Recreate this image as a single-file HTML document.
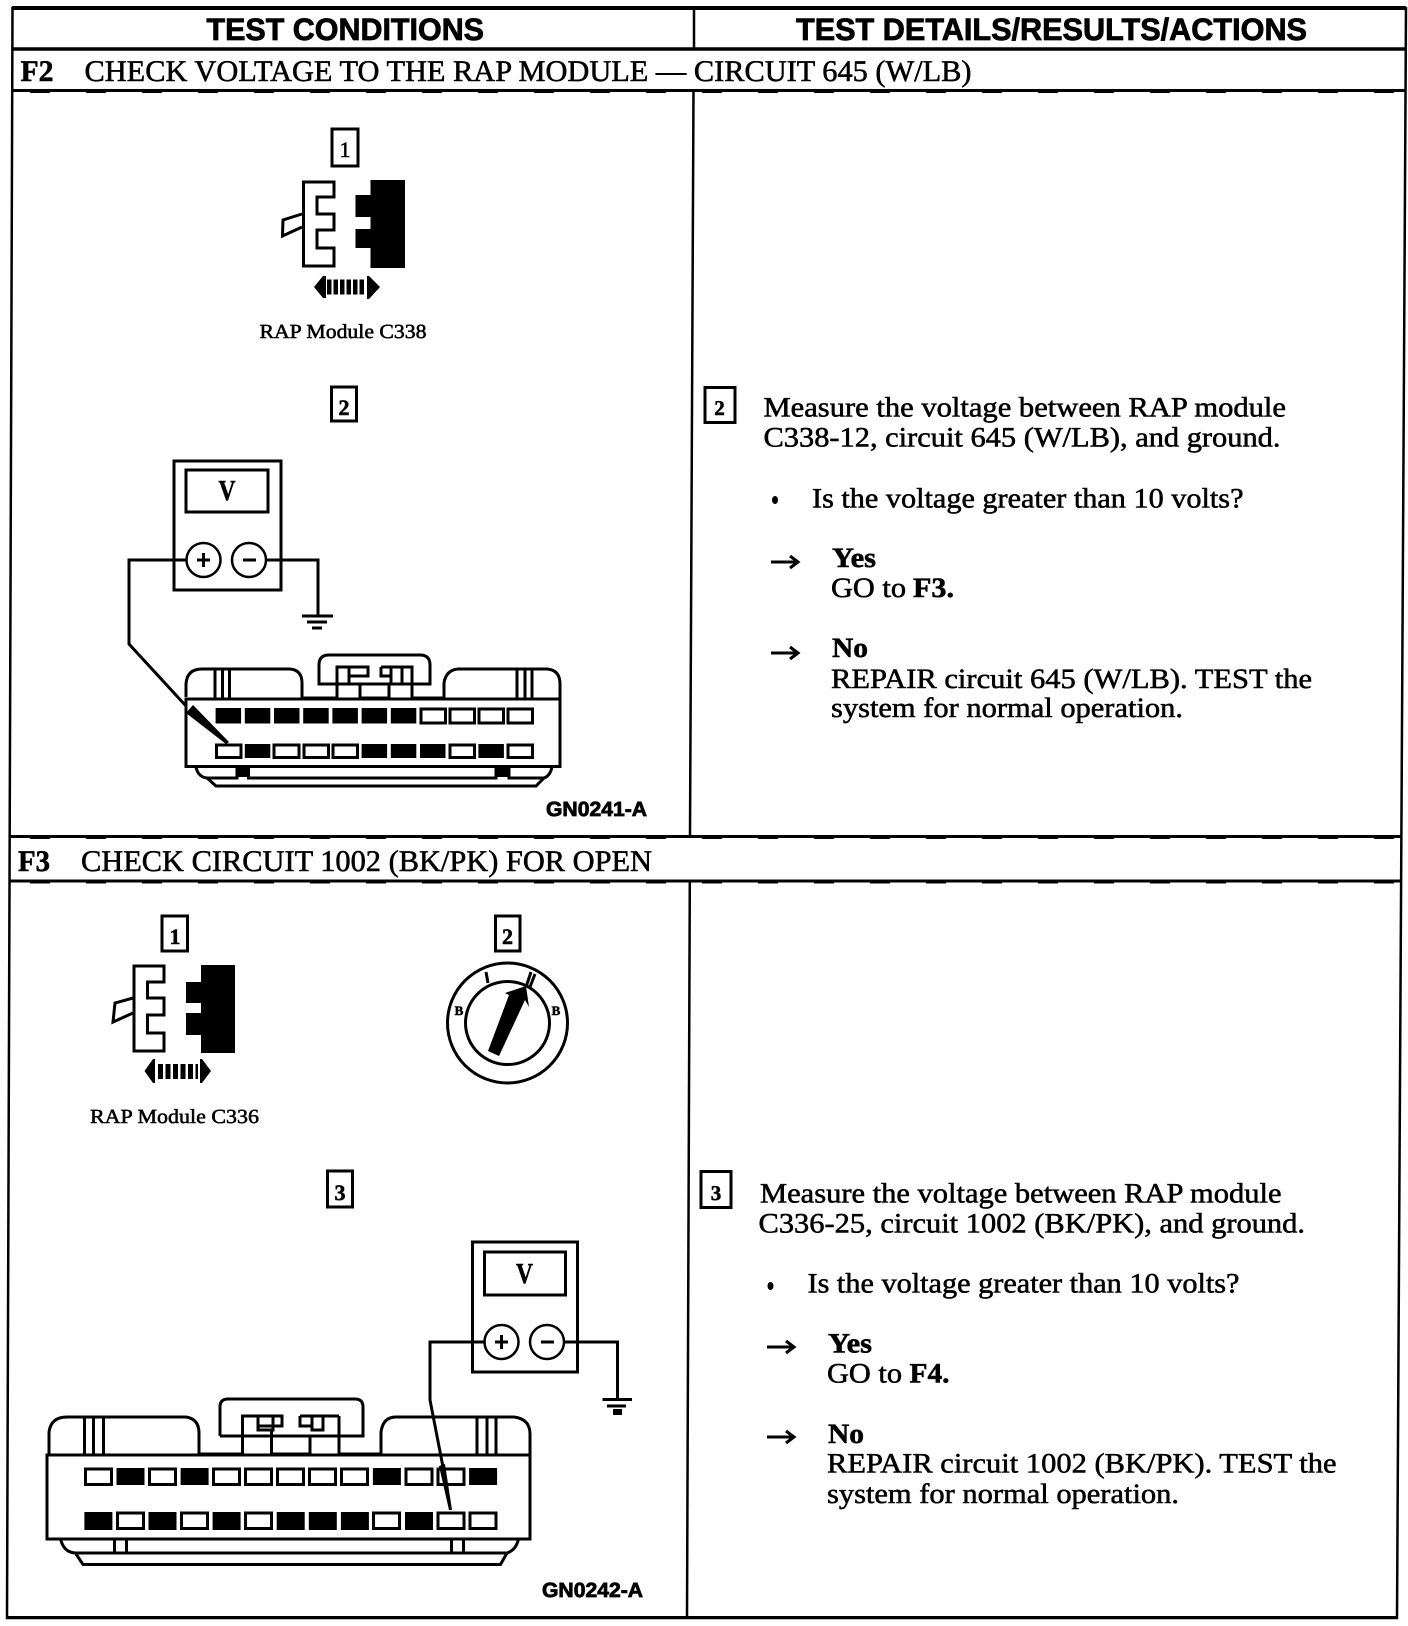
<!DOCTYPE html>
<html><head><meta charset="utf-8"><title>F2 F3 test</title>
<style>
html,body{margin:0;padding:0;background:#fff;width:1408px;height:1626px;overflow:hidden}
svg{display:block}
text{font-family:"Liberation Serif",serif;fill:#000;stroke:#000;stroke-width:.55;text-rendering:geometricPrecision}
.s{font-family:"Liberation Sans",sans-serif;font-weight:bold;stroke-width:.8}
.b{font-weight:bold}
.m{font-size:28px}
.l{fill:none;stroke:#000;stroke-width:3}
.k{fill:#000;stroke:none}
.w{fill:#fff;stroke:#000;stroke-width:2.5}
</style></head><body>
<svg xmlns="http://www.w3.org/2000/svg" width="1408" height="1626" viewBox="0 0 1408 1626">
<rect width="1408" height="1626" fill="#fff"/>
<!-- table -->
<g class="l">
<path d="M12.5 8H1406L1397 1618H7Z" stroke-width="2.5"/>
<path d="M12 8H1406" stroke-width="4"/>
<path d="M694 8V49M693.5 90L690 836M689.800 881L687 1618" stroke-width="2.5"/>
<path d="M12.5 49H1406" stroke-width="3.5"/>
<path d="M12 90.5H1405"/>
<path d="M9.5 836.5H1402"/>
<path d="M9 881H1401.5"/>
<path d="M7 1617.5H1397"/>
</g>
<g stroke="#000" stroke-width="1" stroke-dasharray="20 36" fill="none">
<path d="M30 92.500H1400"/><path d="M30 838.500H1400"/><path d="M30 883H1400"/>
</g>
<!-- header -->
<text class="s" x="206.5" y="40" font-size="31" textLength="277.5" lengthAdjust="spacingAndGlyphs">TEST CONDITIONS</text>
<text class="s" x="796" y="40" font-size="31" textLength="511" lengthAdjust="spacingAndGlyphs">TEST DETAILS/RESULTS/ACTIONS</text>
<text class="b" x="20.5" y="81" font-size="30" textLength="33" lengthAdjust="spacingAndGlyphs">F2</text>
<text x="84.5" y="81" font-size="30" textLength="887" lengthAdjust="spacingAndGlyphs">CHECK VOLTAGE TO THE RAP MODULE — CIRCUIT 645 (W/LB)</text>
<text class="b" x="18" y="871" font-size="30" textLength="32" lengthAdjust="spacingAndGlyphs">F3</text>
<text x="81" y="871" font-size="30" textLength="571" lengthAdjust="spacingAndGlyphs">CHECK CIRCUIT 1002 (BK/PK) FOR OPEN</text>

<!-- F2 step 1 -->
<rect x="332" y="129" width="26" height="37" class="l" stroke-width="2.5"/>
<text x="345" y="157" font-size="22" text-anchor="middle">1</text>
<path class="l" d="M303.5 182H334V197H317V214H334V230H317V248H334V266H303.5Z"/>
<path class="l" d="M302 214L283 220L282.5 236L302 227"/>
<path class="k" d="M370.5 180H405V268H370.5V248H355.5V229H370.5V217H355.5V195H370.5Z"/>
<path class="k" d="M314 287L323 276H326V298H323Z"/><path class="k" d="M367 276H369L380 287L369 299H367Z"/>
<path d="M327 287H366" stroke="#000" stroke-width="15" stroke-dasharray="4.500 2" fill="none"/>
<text x="259.5" y="338" font-size="20" textLength="167" lengthAdjust="spacingAndGlyphs">RAP Module C338</text>
<rect x="331.5" y="387" width="25" height="34" class="l" stroke-width="2.5"/>
<text x="344" y="415" font-size="22" text-anchor="middle" class="b">2</text>

<!-- F2 meter -->
<rect x="174" y="461" width="107" height="129" class="l" stroke-width="4"/>
<rect x="186" y="470" width="82" height="42" class="l" stroke-width="3"/>
<text class="b" x="218.500" y="500" font-size="29" textLength="17" lengthAdjust="spacingAndGlyphs">V</text>
<path class="l" stroke-width="3.5" d="M186 560H129V644L186 706"/>
<path class="l" stroke-width="3.5" d="M266 560H318V615"/>
<ellipse cx="203.5" cy="560" rx="17" ry="17" class="w"/><ellipse cx="249" cy="560" rx="17" ry="17" class="w"/>
<path class="l" d="M197 560H210M203.5 553V567M243 560H256"/>
<path class="l" d="M302 616H333" stroke-width="3.5"/><path class="l" d="M307 622H327"/><path class="l" d="M312 628H322"/>
<!-- F2 connector -->
<rect x="186" y="699" width="374" height="67.5" class="l"/>
<path class="l" d="M186 697V684Q187 669 202 669H290Q302 670 302 683V698"/>
<path class="l" stroke-width="2" d="M215 669V698M222.5 669V698M229.5 669V698M517 669V698M525 669V698M532 669V698"/>
<path class="l" d="M302 698H337V667H368V676H349M349 667V684M337 684H319V665Q319 655 329 655H420Q430 655 430 665V684H337M381 667H412V698H444M381 667V676H391M391 667V684M402 667V684M360 684V698H389V684"/>
<path class="l" d="M444 698V683Q446 670 458 669H547Q560 670 560 684V699"/>
<g class="k">
<rect x="215.6" y="708" width="25.5" height="15.5"/><rect x="244.8" y="708" width="25.5" height="15.5"/><rect x="274" y="708" width="25.5" height="15.5"/><rect x="303.2" y="708" width="25.5" height="15.5"/><rect x="332.4" y="708" width="25.5" height="15.5"/><rect x="361.6" y="708" width="25.5" height="15.5"/><rect x="390.8" y="708" width="25.5" height="15.5"/>
<rect x="244.8" y="744" width="25.5" height="14"/><rect x="361.6" y="744" width="25.5" height="14"/><rect x="390.8" y="744" width="25.5" height="14"/><rect x="420" y="744" width="25.5" height="14"/><rect x="478.4" y="744" width="25.5" height="14"/>
</g>
<g class="l" stroke-width="2">
<rect x="421" y="709" width="24.5" height="14"/><rect x="450" y="709" width="24.5" height="14"/><rect x="479" y="709" width="24.5" height="14"/><rect x="508" y="709" width="24.5" height="14"/>
<rect x="216.5" y="745" width="24.5" height="12.5"/><rect x="274" y="745" width="25" height="12.5"/><rect x="304" y="745" width="24.5" height="12.5"/><rect x="333" y="745" width="24.5" height="12.5"/><rect x="450" y="745" width="24.5" height="12.5"/><rect x="508" y="745" width="24.5" height="12.5"/>
</g>
<path class="l" d="M196 767Q198 777 207 778L216 786H536L544 778Q550 776 552 767"/>
<path class="l" d="M207 778H237V767H248.5V778H496V767H509V778H544" stroke-width="2.5"/>
<path class="k" d="M237 767h11.500v10h-11.500zM496 767h13v10h-13z"/>
<path class="k" d="M186 713L193 705L229 742L226 744Z"/>
<text class="s" x="546" y="816" font-size="20.500" textLength="101" lengthAdjust="spacingAndGlyphs">GN0241-A</text>

<!-- F2 right -->
<rect x="705" y="387.500" width="30" height="35" class="l" stroke-width="2.500"/>
<text x="719.500" y="415" font-size="21" text-anchor="middle" class="b">2</text>
<text class="m" x="763.500" y="416.500" textLength="522.500" lengthAdjust="spacingAndGlyphs">Measure the voltage between RAP module</text>
<text class="m" x="763.500" y="446.500" textLength="517" lengthAdjust="spacingAndGlyphs">C338-12, circuit 645 (W/LB), and ground.</text>
<ellipse cx="775" cy="500" rx="3" ry="4" class="k"/>
<text class="m" x="812" y="507.500" textLength="431.500" lengthAdjust="spacingAndGlyphs">Is the voltage greater than 10 volts?</text>
<path class="l" stroke-width="2.500" d="M771 562H797M790 556L798 562L790 568"/>
<text class="m b" x="832" y="567" textLength="44" lengthAdjust="spacingAndGlyphs">Yes</text>
<text class="m" x="831" y="597" textLength="75" lengthAdjust="spacingAndGlyphs">GO to</text>
<text class="m b" x="913" y="597" textLength="41" lengthAdjust="spacingAndGlyphs">F3.</text>
<path class="l" stroke-width="2" d="M771 653H797M790 647L798 653L790 659"/>
<text class="m b" x="832" y="657" textLength="36" lengthAdjust="spacingAndGlyphs">No</text>
<text class="m" x="831" y="688" textLength="481" lengthAdjust="spacingAndGlyphs">REPAIR circuit 645 (W/LB). TEST the</text>
<text class="m" x="831" y="717" textLength="352" lengthAdjust="spacingAndGlyphs">system for normal operation.</text>

<!-- F3 step 1 -->
<rect x="162" y="916" width="25.500" height="35" class="l" stroke-width="2.500"/>
<text x="175" y="944" font-size="22" text-anchor="middle" class="b">1</text>
<path class="l" d="M134 966H164V982H147.500V998H164V1015H147.500V1033H164V1051H134Z"/>
<path class="l" d="M133 998L115 1003L113 1022L133 1013"/>
<path class="k" d="M201 965H235V1053H201V1035H186V1013H201V1003H186V982H201Z"/>
<path class="k" d="M144.500 1071L153 1059H155V1083H153Z"/><path class="k" d="M200 1059H202L211 1071L202 1083H200Z"/>
<path d="M158 1071.500H198" stroke="#000" stroke-width="15" stroke-dasharray="5 2.500" fill="none"/>
<text x="90" y="1123" font-size="20" textLength="169" lengthAdjust="spacingAndGlyphs">RAP Module C336</text>

<!-- F3 step 2 -->
<rect x="495.500" y="916" width="24.500" height="35" class="l" stroke-width="2.500"/>
<text x="507.500" y="944" font-size="22" text-anchor="middle" class="b">2</text>
<ellipse cx="507.500" cy="1023" rx="60" ry="60" class="l" stroke-width="3.500"/>
<ellipse cx="507.500" cy="1023" rx="42" ry="41.500" class="l" stroke-width="2.500"/>
<path class="k" d="M488 1051L509 995L505 993L526 986L529 1007L525 1000L499 1056Z"/>
<path class="l" stroke-width="2" d="M486 972L488 983M531 972L526 987M535 974L530 987"/>
<text class="b" x="459" y="1015" font-size="13" text-anchor="middle">B</text>
<text class="b" x="556" y="1015" font-size="13" text-anchor="middle">B</text>
<rect x="327.500" y="1171" width="25" height="36" class="l" stroke-width="2.500"/>
<text x="340" y="1200" font-size="22" text-anchor="middle" class="b">3</text>

<!-- F3 meter -->
<rect x="472.500" y="1242" width="105" height="130" class="l" stroke-width="3.500"/>
<rect x="484.500" y="1252" width="81" height="43" class="l"/>
<text class="b" x="516" y="1283" font-size="29" textLength="17" lengthAdjust="spacingAndGlyphs">V</text>
<path class="l" stroke-width="3.500" d="M485 1342H430V1400L443 1467"/>
<path class="l" stroke-width="3.500" d="M564 1342H617.500V1399"/>
<ellipse cx="501.500" cy="1342" rx="17" ry="17" class="w"/><ellipse cx="547" cy="1342" rx="17" ry="17" class="w"/>
<path class="l" d="M495 1342H508M501.500 1335V1349M541 1342H554"/>
<path class="l" stroke-width="3.500" d="M602.500 1399.500H632"/><path class="l" d="M607 1406H626"/><path class="k" d="M613 1409h9v6h-9z"/>
<!-- F3 connector -->
<rect x="47" y="1455" width="483" height="84" class="l"/>
<path class="l" d="M49 1454V1432Q51 1417 67 1417H186Q199 1419 199 1433V1454"/>
<path class="l" stroke-width="2" d="M84.500 1417V1454M93.500 1417V1454M103.500 1417V1454M477 1417V1454M487 1417V1454M496 1417V1454"/>
<path class="l" d="M199 1454H242.500V1416H282V1426H258M258 1416V1430H273V1416M220 1436V1407Q220 1399 228 1399H355Q363 1399 363 1407V1436H220M300 1416H339M300 1416V1426H312M312 1416V1430H323V1416M339 1416V1454H381M271.500 1430V1454H310V1436"/>
<path class="l" d="M381 1454V1432Q383 1417 396 1417H514Q530 1419 530 1434V1454"/>
<g class="k">
<rect x="116.500" y="1468" width="28" height="17"/><rect x="180.600" y="1468" width="28" height="17"/><rect x="372.900" y="1468" width="28" height="17"/><rect x="469.100" y="1468" width="28" height="17"/>
<rect x="84.400" y="1512" width="28" height="18"/><rect x="148.500" y="1512" width="28" height="18"/><rect x="212.600" y="1512" width="28" height="18"/><rect x="276.700" y="1512" width="28" height="18"/><rect x="308.800" y="1512" width="28" height="18"/><rect x="340.900" y="1512" width="28" height="18"/><rect x="405" y="1512" width="28" height="18"/>
</g>
<g class="l" stroke-width="2.500">
<rect x="85.500" y="1469" width="26" height="15.500"/><rect x="149.500" y="1469" width="26" height="15.500"/><rect x="213.500" y="1469" width="26" height="15.500"/><rect x="245.500" y="1469" width="26" height="15.500"/><rect x="277.500" y="1469" width="26" height="15.500"/><rect x="309.500" y="1469" width="26" height="15.500"/><rect x="341.500" y="1469" width="26" height="15.500"/><rect x="406" y="1469" width="26" height="15.500"/><rect x="438" y="1469" width="26" height="15.500"/>
<rect x="117.500" y="1513" width="26" height="15.500"/><rect x="181.500" y="1513" width="26" height="15.500"/><rect x="245.500" y="1513" width="26" height="15.500"/><rect x="373.500" y="1513" width="26" height="15.500"/><rect x="438" y="1513" width="26" height="15.500"/><rect x="470" y="1513" width="26" height="15.500"/>
</g>
<path class="l" d="M60.500 1539Q64 1553 76 1553H507Q516 1550 518.500 1539"/>
<path class="l" d="M76 1554L83 1564.500H500.500L507 1553"/>
<path class="k" d="M113 1539h3v13h9v-13h3v15h-15zM450 1539h3v13h9v-13h3v15h-15z"/>
<path class="k" d="M439 1466L445 1464L452 1510L449 1510Z"/>
<text class="s" x="542" y="1597" font-size="20.500" textLength="101" lengthAdjust="spacingAndGlyphs">GN0242-A</text>

<!-- F3 right -->
<rect x="701" y="1171.500" width="30" height="36" class="l" stroke-width="2.500"/>
<text x="716" y="1200" font-size="21" text-anchor="middle" class="b">3</text>
<text class="m" x="760" y="1202.500" textLength="521.500" lengthAdjust="spacingAndGlyphs">Measure the voltage between RAP module</text>
<text class="m" x="758.500" y="1232.500" textLength="546.500" lengthAdjust="spacingAndGlyphs">C336-25, circuit 1002 (BK/PK), and ground.</text>
<ellipse cx="770.500" cy="1286" rx="3" ry="4" class="k"/>
<text class="m" x="807.500" y="1292.500" textLength="432" lengthAdjust="spacingAndGlyphs">Is the voltage greater than 10 volts?</text>
<path class="l" stroke-width="2" d="M767 1347H793M786 1341L794 1347L786 1353"/>
<text class="m b" x="828" y="1352.500" textLength="44" lengthAdjust="spacingAndGlyphs">Yes</text>
<text class="m" x="827" y="1382.500" textLength="75" lengthAdjust="spacingAndGlyphs">GO to</text>
<text class="m b" x="909.500" y="1382.500" textLength="40" lengthAdjust="spacingAndGlyphs">F4.</text>
<path class="l" stroke-width="2.500" d="M767 1437H793M786 1431L794 1437L786 1443"/>
<text class="m b" x="828" y="1443" textLength="36" lengthAdjust="spacingAndGlyphs">No</text>
<text class="m" x="827" y="1472.500" textLength="509.500" lengthAdjust="spacingAndGlyphs">REPAIR circuit 1002 (BK/PK). TEST the</text>
<text class="m" x="827" y="1503" textLength="352" lengthAdjust="spacingAndGlyphs">system for normal operation.</text>
</svg>
</body></html>
